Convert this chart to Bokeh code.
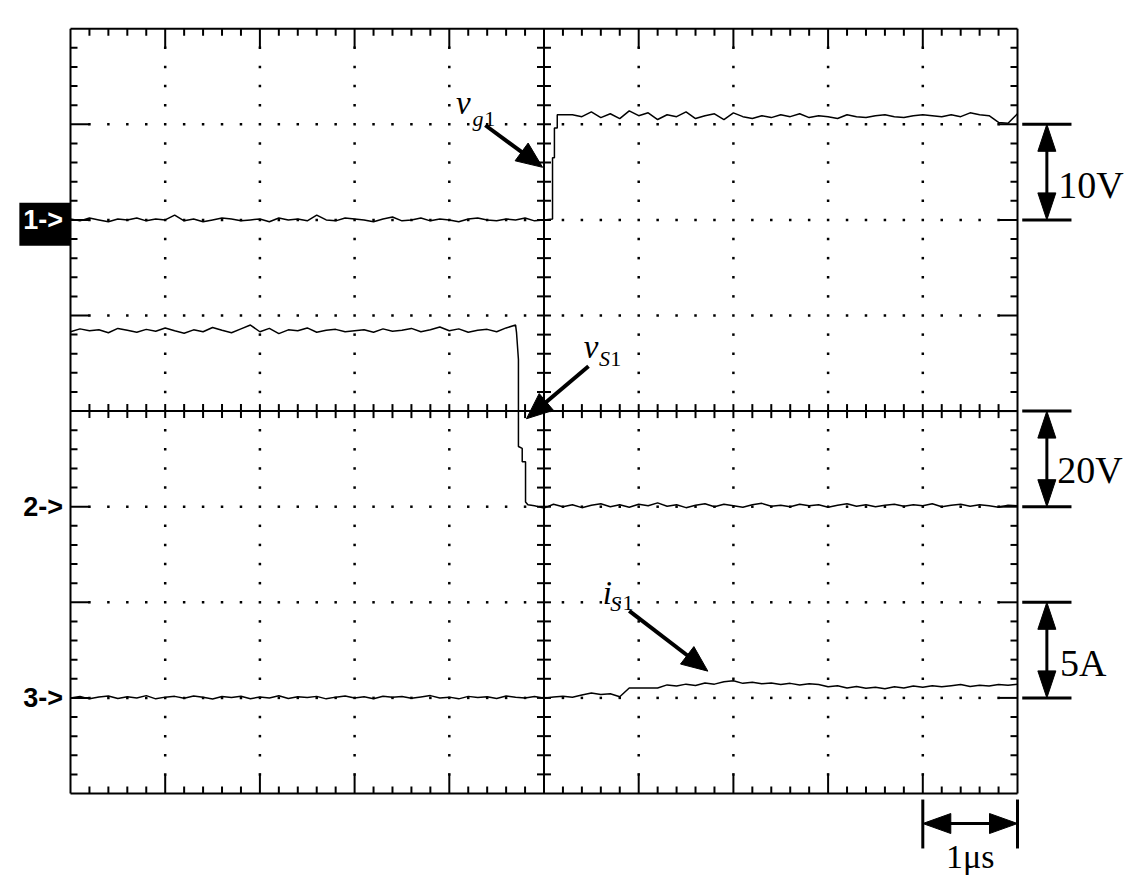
import math
from bokeh.plotting import figure
from bokeh.models import Range1d, Label
from bokeh.embed import file_html
from bokeh.resources import INLINE

# ---------------- scope settings ----------------
US_PER_DIV = 1.0                      # time base, µs/div
CH1_V_PER_DIV, CH1_REF = 10.0, 6.0    # vg1  : 10 V/div, marker "1->"
CH2_V_PER_DIV, CH2_REF = 20.0, 3.0    # vS1  : 20 V/div, marker "2->"
CH3_A_PER_DIV, CH3_REF = 5.0, 1.0     # iS1  : 5 A/div,  marker "3->"
DT = 0.1                              # sample spacing, µs

# ---------------- channel 1 : gate voltage vg1 (V) ----------------
ch1_low_t0 = -5.0
ch1_low = [0.1, -0.1, 0.2, 0.0, -0.2, 0.1, 0.0, 0.2, -0.1, 0.1,
           0.0, 0.5, -0.1, 0.1, -0.2, 0.0, 0.2, 0.1, -0.1, 0.0,
           0.1, -0.2, 0.2, 0.0, 0.1, -0.1, 0.5, 0.0, -0.1, 0.2,
           0.1, 0.0, -0.2, 0.1, 0.3, -0.1, 0.0, 0.2, -0.1, 0.1,
           0.0, -0.2, 0.1, 0.2, 0.0, -0.1, 0.1, 0.0, 0.2, -0.1,
           0.0]
ch1_edge_t = [0.09, 0.09, 0.11, 0.11, 0.14, 0.14, 0.22]
ch1_edge_v = [0.1, 6.5, 6.5, 9.6, 9.6, 11.0, 11.0]
ch1_high_t0 = 0.3
ch1_high = [11.0, 10.8, 11.3, 10.7, 11.1, 10.6, 11.4, 10.9, 11.2, 10.5,
            11.0, 10.8, 11.3, 10.6, 10.9, 11.1, 10.5, 11.2, 10.8, 10.6,
            10.9, 10.7, 11.0, 10.8, 11.1, 10.7, 10.9, 10.8, 10.6, 11.0,
            10.8, 10.7, 10.9, 11.0, 10.8, 10.7, 10.9, 11.0, 10.9, 10.8,
            11.0, 10.8, 11.2, 11.0, 10.9, 10.2, 10.1, 11.1]

# ---------------- channel 2 : switch voltage vS1 (V) ----------------
ch2_high_t0 = -5.0
ch2_high = [36.6, 37.2, 36.8, 37.0, 36.4, 37.3, 36.9, 36.5, 37.1, 36.7,
            37.4, 36.8, 36.3, 37.0, 36.6, 37.5, 36.9, 36.4, 37.2, 38.0,
            36.6, 37.3, 36.2, 37.0, 36.8, 37.4, 36.5, 36.9, 37.1, 36.6,
            36.8, 37.0, 36.5, 37.2, 36.7, 36.9, 37.3, 36.6, 37.0, 37.6,
            36.8, 37.2, 36.5, 36.9, 37.1, 36.6, 37.4, 38.0]
ch2_edge_t = [-0.29, -0.27, -0.27, -0.23, -0.23, -0.195, -0.195, -0.17]
ch2_edge_v = [36.4, 30.8, 12.6, 12.2, 9.4, 9.4, 1.0, 0.4]
ch2_low_t0 = -0.1
ch2_low = [0.2, -0.3, 0.5, 0.0, 0.4, -0.2, 0.3, 0.6, 0.0, 0.4,
           -0.1, 0.5, 0.2, 0.8, 0.1, 0.4, -0.2, 0.3, 0.6, 0.0,
           0.5, 0.2, -0.1, 0.4, 0.7, 0.1, 0.3, 0.0, 0.5, 0.2,
           0.4, -0.1, 0.3, 0.6, 0.1, 0.4, 0.0, 0.3, 0.5, 0.1,
           0.4, 0.2, 0.6, 0.0, 0.3, 0.5, 0.1, 0.4, 0.2, -0.1,
           0.3, 0.2]

# ---------------- channel 3 : switch current iS1 (A) ----------------
ch3_t0 = -5.0
ch3 = [0.00, 0.08, -0.05, 0.05, 0.10, -0.03, 0.06, 0.00, 0.12, -0.05,
       0.04, 0.08, -0.02, 0.10, 0.03, -0.06, 0.07, 0.02, 0.09, -0.04,
       0.05, 0.00, 0.11, -0.03, 0.06, 0.02, 0.08, -0.05, 0.04, 0.10,
       0.00, 0.06, -0.04, 0.09, 0.03, 0.07, -0.02, 0.05, 0.12, 0.00,
       0.04, -0.05, 0.08, 0.02, 0.06, -0.03, 0.10, 0.04, 0.00, 0.07,
       -0.02, 0.05, 0.08, 0.03, 0.15, 0.26, 0.18, 0.22, 0.06, 0.52,
       0.52, 0.52, 0.52, 0.68, 0.62, 0.72, 0.65, 0.78, 0.72, 0.84,
       0.90, 0.76, 0.82, 0.74, 0.78, 0.70, 0.76, 0.68, 0.74, 0.70,
       0.58, 0.64, 0.52, 0.60, 0.50, 0.56, 0.48, 0.58, 0.52, 0.62,
       0.56, 0.64, 0.58, 0.64, 0.70, 0.60, 0.66, 0.62, 0.70, 0.66,
       0.72]

# ---------------- page geometry ----------------
W, H = 1125, 875
SX, SY = 94.7, 95.6          # pixels per division
X0 = -70.0 / SX
X1 = X0 + W / SX
Y1 = 793.0 / SY
Y0 = Y1 - H / SY

p = figure(width=W, height=H, x_range=Range1d(X0, X1), y_range=Range1d(Y0, Y1),
           x_axis_type=None, y_axis_type=None, toolbar_location=None,
           output_backend="svg", min_border=0, title=None)
p.outline_line_color = None
p.background_fill_color = "white"
p.border_fill_color = "white"

K = "black"

# ---------------- graticule ----------------
p.segment([0, 0, 10, 0], [0, 8, 0, 0], [10, 10, 10, 0], [0, 8, 8, 8], line_color=K, line_width=2)
p.segment([0, 5], [4, 0], [10, 5], [4, 8], line_color=K, line_width=2)

x0s, y0s, x1s, y1s = [], [], [], []
for k in range(1, 50):
    x = k * 0.2
    L = (19 if k % 5 == 0 else 7) / SY
    x0s += [x, x]; y0s += [0, 8]; x1s += [x, x]; y1s += [L, 8 - L]
    c = 7 / SY
    x0s.append(x); y0s.append(4 - c); x1s.append(x); y1s.append(4 + c)
for k in range(1, 40):
    y = k * 0.2
    L = (19 if k % 5 == 0 else 7) / SX
    x0s += [0, 10]; y0s += [y, y]; x1s += [L, 10 - L]; y1s += [y, y]
    c = 7 / SX
    x0s.append(5 - c); y0s.append(y); x1s.append(5 + c); y1s.append(y)
p.segment(x0s, y0s, x1s, y1s, line_color=K, line_width=2)

dx, dy = [], []
for i in range(1, 10):
    if i == 5:
        continue
    for k in range(1, 40):
        if k == 20:
            continue
        dx.append(i); dy.append(k * 0.2)
for j in range(1, 8):
    if j == 4:
        continue
    for k in range(1, 50):
        if k == 25 or k % 5 == 0:
            continue
        dx.append(k * 0.2); dy.append(j)
p.scatter(dx, dy, marker="square", size=2.5, fill_color=K, line_color=None)

# ---------------- traces ----------------
def times(t0, vals):
    return [round(t0 + DT * i, 3) for i in range(len(vals))]

t1 = times(ch1_low_t0, ch1_low) + ch1_edge_t + times(ch1_high_t0, ch1_high)
v1 = ch1_low + ch1_edge_v + ch1_high
t2 = times(ch2_high_t0, ch2_high) + ch2_edge_t + times(ch2_low_t0, ch2_low)
v2 = ch2_high + ch2_edge_v + ch2_low
t3 = times(ch3_t0, ch3)
v3 = ch3

for tt, vv, ref, sc in [(t1, v1, CH1_REF, CH1_V_PER_DIV),
                        (t2, v2, CH2_REF, CH2_V_PER_DIV),
                        (t3, v3, CH3_REF, CH3_A_PER_DIV)]:
    xs = [t / US_PER_DIV + 5 for t in tt]
    ys = [ref + v / sc for v in vv]
    p.line(xs, ys, line_color=K, line_width=1.5)

# ---------------- arrows ----------------
def head(tip, tail, L, Wd):
    dxp = (tip[0] - tail[0]) * SX
    dyp = (tip[1] - tail[1]) * SY
    n = math.hypot(dxp, dyp)
    ux, uy = dxp / n, dyp / n
    tx, ty = tip[0] * SX, tip[1] * SY
    bx, by = tx - L * ux, ty - L * uy
    nx, ny = -uy, ux
    pts = [(tx, ty), (bx + Wd / 2 * nx, by + Wd / 2 * ny), (bx - Wd / 2 * nx, by - Wd / 2 * ny)]
    base = ((bx + 2 * ux) / SX, (by + 2 * uy) / SY)
    return [q[0] / SX for q in pts], [q[1] / SY for q in pts], base

hx, hy = [], []
def arrow(tail, tip, L, Wd, lw):
    xs, ys, base = head(tip, tail, L, Wd)
    hx.append(xs); hy.append(ys)
    p.segment([tail[0]], [tail[1]], [base[0]], [base[1]], line_color=K, line_width=lw)

def double_arrow(a, b, L, Wd, lw):
    xa, ya, ba = head(a, b, L, Wd)
    xb, yb, bb = head(b, a, L, Wd)
    hx.extend([xa, xb]); hy.extend([ya, yb])
    p.segment([ba[0]], [ba[1]], [bb[0]], [bb[1]], line_color=K, line_width=lw)

arrow((4.38, 6.99), (4.985, 6.55), 26, 22, 4)     # vg1
arrow((5.47, 4.47), (4.815, 3.92), 26, 22, 4)     # vS1
arrow((5.90, 1.91), (6.73, 1.28), 26, 22, 4)      # iS1

BX0, BX1, BXA = 10.05, 10.57, 10.31
for ref in (CH1_REF, CH2_REF, CH3_REF):
    p.segment([BX0, BX0], [ref, ref + 1], [BX1, BX1], [ref, ref + 1], line_color=K, line_width=3)
    double_arrow((BXA, ref + 1), (BXA, ref), 27, 18, 3)

p.segment([9.0, 10.0], [-0.063, -0.063], [9.0, 10.0], [-0.575, -0.575], line_color=K, line_width=3)
double_arrow((9.0, -0.314), (10.0, -0.314), 28, 20, 3)

p.patches(hx, hy, fill_color=K, line_color=K, line_width=1)

# ---------------- channel markers ----------------
p.quad(left=[-0.54], right=[0.0], bottom=[5.73], top=[6.18], fill_color=K, line_color=None)
SANS = "Liberation Sans"
for txt, yy, col in [("1->", 6.0, "white"), ("2->", 3.0, K), ("3->", 1.0, K)]:
    p.add_layout(Label(x=-0.08, y=yy, text=txt, text_align="right", text_baseline="middle",
                       text_font=SANS, text_font_style="bold", text_font_size="27px",
                       text_color=col))

# ---------------- text labels ----------------
SERIF = "Liberation Serif"
def lab(x, y, txt, size, style="normal", align="left"):
    p.add_layout(Label(x=x, y=y, text=txt, text_align=align, text_baseline="alphabetic",
                       text_font=SERIF, text_font_style=style, text_font_size=size,
                       text_color=K))

lab(4.07, 7.22, "v", "33px", "italic")
lab(4.245, 7.06, "g", "22px", "italic")
lab(4.37, 7.06, "1", "22px")
lab(5.42, 4.67, "v", "33px", "italic")
lab(5.58, 4.55, "S", "22px", "italic")
lab(5.70, 4.55, "1", "22px")
lab(5.62, 2.10, "i", "33px", "italic")
lab(5.70, 1.99, "S", "22px", "italic")
lab(5.83, 1.99, "1", "22px")

lab(10.43, 6.36, "10V", "38px")
lab(10.42, 3.38, "20V", "38px")
lab(10.45, 1.37, "5A", "38px")
lab(9.5, -0.66, "1\u03bcs", "34px", align="center")

open("out.html", "w").write(file_html(p, INLINE))
